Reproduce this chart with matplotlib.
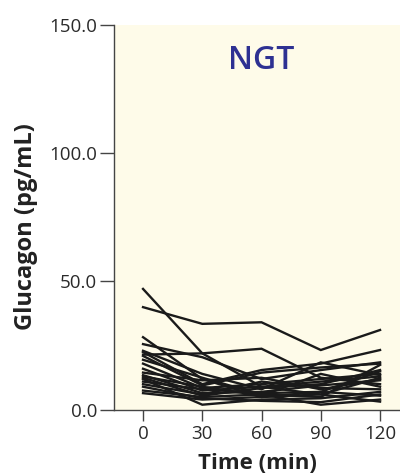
import matplotlib
matplotlib.use("Agg")
import matplotlib.pyplot as plt

plt.rcParams['font.family'] = ['Open Sans', 'DejaVu Sans']

# time points (min)
times = [0, 30, 60, 90, 120]
xtick_labels = ["0", "30", "60", "90", "120"]
ytick_values = [0, 50, 100, 150]

# glucagon per subject (pg/mL)
s1 = [40.0, 33.5, 34.1, 23.3, 31.1]
s2 = [47.1, 22.0, 9.0, 6.0, 12.5]
s3 = [21.5, 22.0, 23.8, 12.5, 10.0]
s4 = [28.3, 12.0, 5.0, 7.0, 15.0]
s5 = [25.6, 20.5, 12.0, 15.5, 18.5]
s6 = [23.0, 14.0, 8.0, 18.5, 13.5]
s7 = [22.5, 10.0, 15.5, 18.0, 23.3]
s8 = [21.0, 9.5, 14.5, 16.5, 18.0]
s9 = [19.5, 12.5, 6.0, 5.0, 17.5]
s10 = [18.0, 8.5, 10.0, 12.0, 14.0]
s11 = [16.0, 7.5, 9.0, 11.0, 13.0]
s12 = [14.5, 11.5, 12.5, 8.0, 12.0]
s13 = [13.5, 6.5, 7.0, 9.5, 11.5]
s14 = [13.0, 9.0, 5.5, 14.0, 9.0]
s15 = [12.5, 5.5, 8.5, 10.0, 15.5]
s16 = [12.0, 2.0, 4.0, 4.5, 7.0]
s17 = [11.0, 8.0, 6.5, 7.0, 5.5]
s18 = [10.0, 6.0, 11.0, 8.5, 8.0]
s19 = [9.0, 4.5, 3.5, 3.0, 6.0]
s20 = [7.5, 5.0, 6.0, 2.0, 4.0]
s21 = [6.5, 4.0, 5.0, 6.0, 3.2]
subjects = [s1, s2, s3, s4, s5, s6, s7, s8, s9, s10, s11,
            s12, s13, s14, s15, s16, s17, s18, s19, s20, s21]

fig = plt.figure(figsize=(4.0, 4.76), dpi=100)
ax = fig.add_axes([0.285, 0.139, 0.715, 0.809])
ax.set_facecolor('#fefbe9')

for s in subjects:
    ax.plot(times, s, color='#1a1a1a', lw=1.7, solid_joinstyle='miter')

ax.set_xlim(-14.7, 130.1)
ax.set_ylim(0, 150)
ax.set_xticks(times)
ax.set_xticklabels(xtick_labels)
ax.set_yticks(ytick_values)
ax.set_yticklabels([f"{v:.1f}" for v in ytick_values])

for side in ['top', 'right']:
    ax.spines[side].set_visible(False)
for side in ['left', 'bottom']:
    ax.spines[side].set_color('#444444')
    ax.spines[side].set_linewidth(1.0)

ax.tick_params(axis='y', length=10, width=1.0, color='#444444',
               labelsize=13.5, labelcolor='#2a2a2a', pad=2)
ax.tick_params(axis='x', length=8, width=1.0, color='#444444',
               labelsize=13.5, labelcolor='#2a2a2a', pad=3)

ax.set_xlabel("Time (min)", fontsize=16, fontweight='bold', color='#222222', labelpad=7)
ax.set_ylabel("Glucagon (pg/mL)", fontsize=17, fontweight='bold', color='#222222')
ax.yaxis.set_label_coords(-0.265, 0.475)

ax.text(60, 136, "NGT", ha='center', va='center', fontsize=23,
        color='#2e3192', fontweight='semibold')

fig.savefig("out.png", dpi=100)
